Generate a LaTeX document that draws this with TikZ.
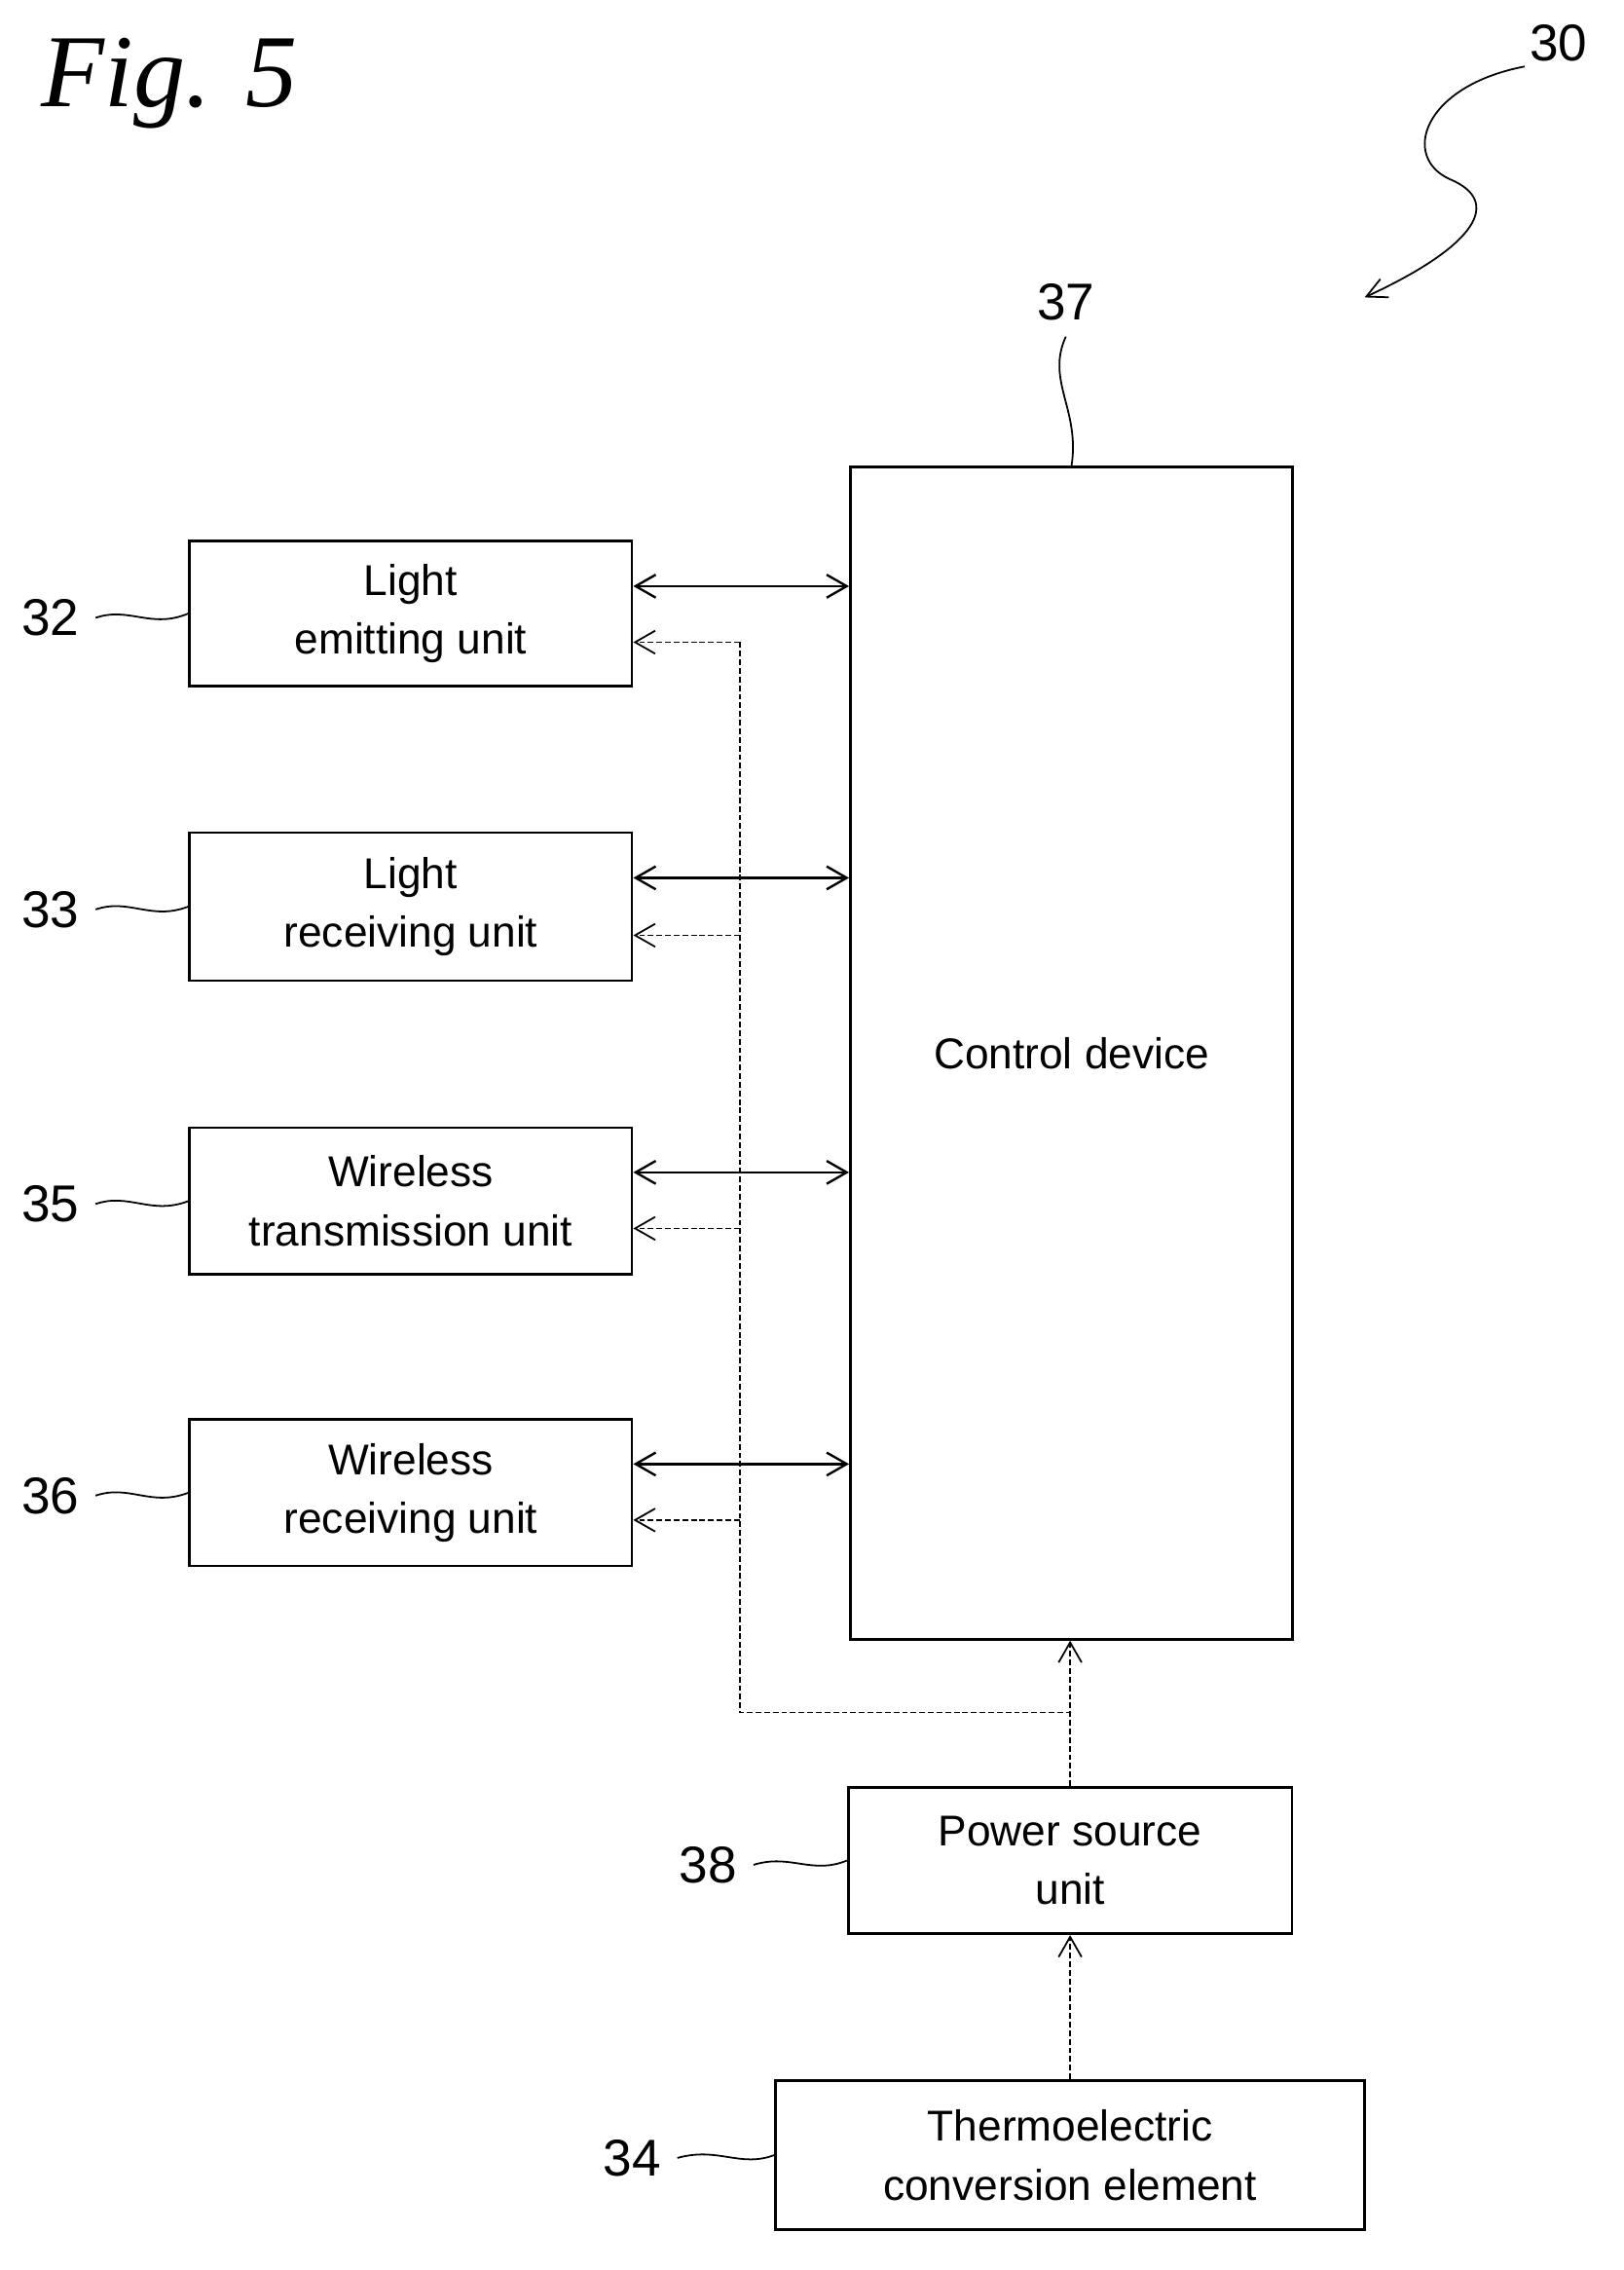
\documentclass[tikz,border=0pt]{standalone}
\usepackage{fontspec}
\setmainfont{Liberation Sans}
\newfontfamily\figfont{Liberation Serif}
\usetikzlibrary{arrows.meta}
\begin{document}
\begin{tikzpicture}[x=1pt,y=-1pt,
  box/.style={draw, line width=1.8pt, inner sep=0pt, align=center,
    font=\fontsize{30}{41}\selectfont},
  sig/.style={line width=1.6pt, {Straight Barb[length=14pt,width=16pt]}-{Straight Barb[length=14pt,width=16pt]}},
  pwr/.style={line width=1.2pt, dash pattern=on 4pt off 2pt},
  ref/.style={font=\fontsize{36}{36}\selectfont},
  lead/.style={line width=1.2pt}]
  \useasboundingbox (0,0) rectangle (1130,1580);

  % Title
  \node[font=\fontsize{72}{72}\selectfont\figfont\itshape] at (118,58) {Fig. 5};

  % Boxes
  \node[box, minimum width=308pt, minimum height=101pt] (emit) at (286,427) {Light\\emitting unit};
  \node[box, minimum width=308pt, minimum height=103pt] (recv) at (286,631) {Light\\receiving unit};
  \node[box, minimum width=308pt, minimum height=102pt] (wtx) at (286,836) {Wireless\\transmission unit};
  \node[box, minimum width=308pt, minimum height=102pt] (wrx) at (286,1039) {Wireless\\receiving unit};
  \node[box, minimum width=308pt, minimum height=816pt] (ctrl) at (746,733) {Control device};
  \node[box, minimum width=309pt, minimum height=102pt] (power) at (745,1295) {Power source\\unit};
  \node[box, minimum width=410pt, minimum height=104pt] (thermo) at (745,1500) {Thermoelectric\\conversion element};

  % Signal connections
  \foreach \b/\y in {emit/408, recv/611, wtx/816, wrx/1019}
    \draw[sig] (\b.east |- 0,\y) -- (ctrl.west |- 0,\y);

  % Power lines
  \coordinate (bus) at (515,1192);
  \coordinate (join) at (745,1192);
  \draw[pwr] (515,447) -- (bus) -- (join);
  \foreach \b/\y in {emit/447, recv/651, wtx/855, wrx/1058}
    \draw[pwr, -{Straight Barb[length=14pt,width=16pt]}] (515,\y) -- (\b.east |- 0,\y);
  \draw[pwr, -{Straight Barb[length=14pt,width=16pt]}] (power.north) -- (power.north |- ctrl.south);
  \draw[pwr, -{Straight Barb[length=14pt,width=16pt]}] (thermo.north) -- (power.south);

  % Reference numerals
  \foreach \n/\b/\y in {32/emit/430, 33/recv/633, 35/wtx/838, 36/wrx/1041}{
    \node[ref] (r\n) at (35,\y) {\n};
    \draw[lead] ([xshift=8pt]r\n.east) .. controls (90,\y-8) and (105,\y+8) .. (\b.west);
  }
  \node[ref] (r38) at (493,1298) {38};
  \draw[lead] ([xshift=8pt]r38.east) .. controls (550,1290) and (565,1305) .. (power.west);
  \node[ref] (r34) at (440,1502) {34};
  \draw[lead] ([xshift=8pt]r34.east) .. controls (500,1494) and (515,1509) .. (thermo.west);
  \node[ref] (r37) at (742,210) {37};
  \draw[lead] ([yshift=-8pt]r37.south) .. controls (728,265) and (752,285) .. (ctrl.north);
  \node[ref] (r30) at (1085,30) {30};
  \coordinate (tip30) at (950,207);
  \draw[lead, -{Straight Barb[length=14pt,width=14pt]}] (r30.south west) .. controls (990,60) and (975,110) .. (1010,125)
    .. controls (1045,140) and (1030,170) .. (tip30);
\end{tikzpicture}
\end{document}
